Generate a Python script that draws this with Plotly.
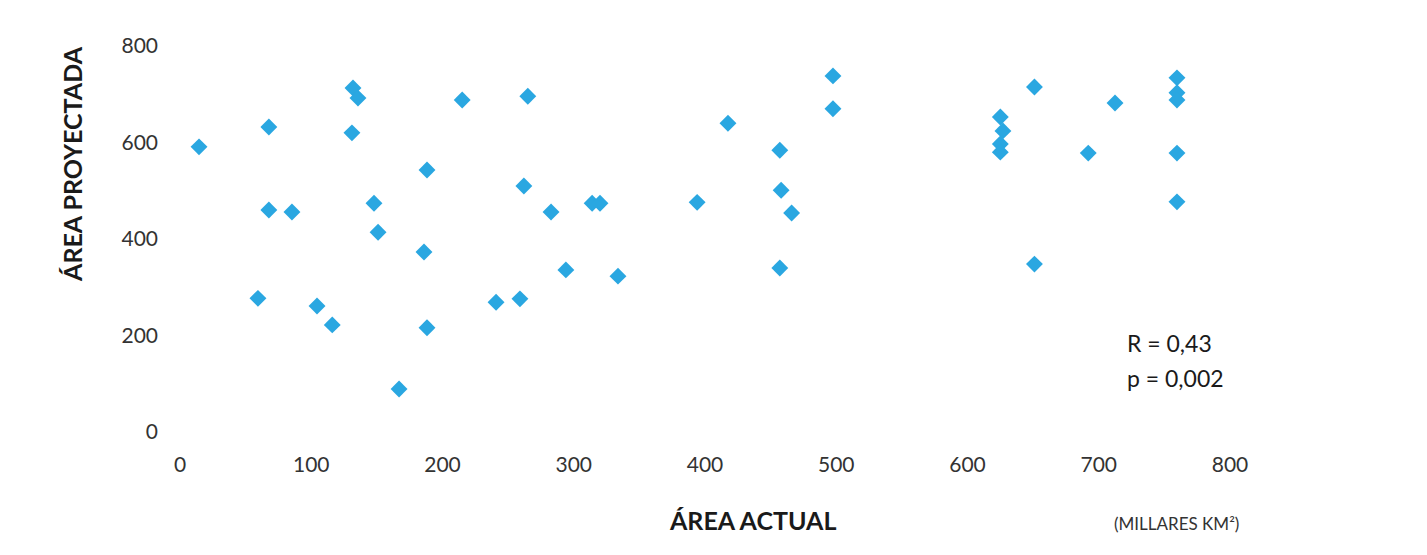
import plotly.graph_objects as go

area_actual = [14.5, 59.4, 67.7, 67.7, 85.3, 104.4, 116, 131.8, 135.6, 131.0,
               147.8, 150.9, 166.9, 188.2, 185.9, 188.2, 215, 240.8, 259, 262,
               265, 282.7, 294, 314, 320, 333.7, 394, 417.5, 457, 458,
               457, 466, 497.5, 497.5, 625, 627, 625, 625, 651, 651,
               692, 712.4, 759.6, 759.6, 759.6, 759.6, 759.6]
area_proyectada = [591, 277, 632, 460, 456, 261, 222, 713, 692, 620,
                   474, 414, 89, 543, 373, 216, 688, 269, 276, 510,
                   696, 456, 336, 474, 474, 323, 476, 640, 584, 501,
                   340, 454, 738, 670, 653, 624, 597, 580, 715, 348,
                   578, 682, 734, 703, 688, 578, 477]

tick_vals = [0, 100, 200, 300, 400, 500, 600, 700, 800]
y_tick_vals = [0, 200, 400, 600, 800]

FONT = "Lato"

fig = go.Figure()
fig.add_trace(go.Scatter(
    x=area_actual, y=area_proyectada, mode="markers",
    marker=dict(symbol="diamond", size=13, color="#2AA7E1", line=dict(width=0)),
    cliponaxis=False, showlegend=False,
))

fig.update_layout(
    width=1411, height=539,
    margin=dict(l=172, r=189, t=38, b=115),
    paper_bgcolor="white", plot_bgcolor="white",
    font=dict(family=FONT, color="#1a1a1a"),
    xaxis=dict(range=[0, 800], tickvals=tick_vals, showgrid=False, zeroline=False,
               showline=False, ticks="", tickfont=dict(size=21, family=FONT, color="#333"),
               ticklabelstandoff=18, fixedrange=True),
    yaxis=dict(range=[0, 800], tickvals=y_tick_vals, showgrid=False, zeroline=False,
               showline=False, ticks="", tickfont=dict(size=21, family=FONT, color="#333"),
               ticklabelstandoff=21, fixedrange=True),
)

fig.add_annotation(text="<b>ÁREA PROYECTADA</b>", xref="paper", yref="paper",
                   x=-0.103, y=0.694, textangle=-90, showarrow=False,
                   xanchor="center", yanchor="middle",
                   font=dict(size=25, family=FONT, color="#1a1a1a"))
fig.add_annotation(text="<b>ÁREA ACTUAL</b>", xref="paper", yref="paper",
                   x=0.545, y=-0.228, showarrow=False, xanchor="center", yanchor="middle",
                   font=dict(size=25, family=FONT, color="#1a1a1a"))
fig.add_annotation(text="(MILLARES KM²)", xref="paper", yref="paper",
                   x=0.9486, y=-0.238, showarrow=False, xanchor="center", yanchor="middle",
                   font=dict(size=17, family=FONT, color="#333"))
fig.add_annotation(text="R = 0,43", xref="paper", yref="paper",
                   x=0.9, y=0.2306, showarrow=False, xanchor="left", yanchor="middle",
                   font=dict(size=23, family=FONT, color="#1a1a1a"))
fig.add_annotation(text="p = 0,002", xref="paper", yref="paper",
                   x=0.9, y=0.14, showarrow=False, xanchor="left", yanchor="middle",
                   font=dict(size=23, family=FONT, color="#1a1a1a"))

fig.write_html("out.html")
